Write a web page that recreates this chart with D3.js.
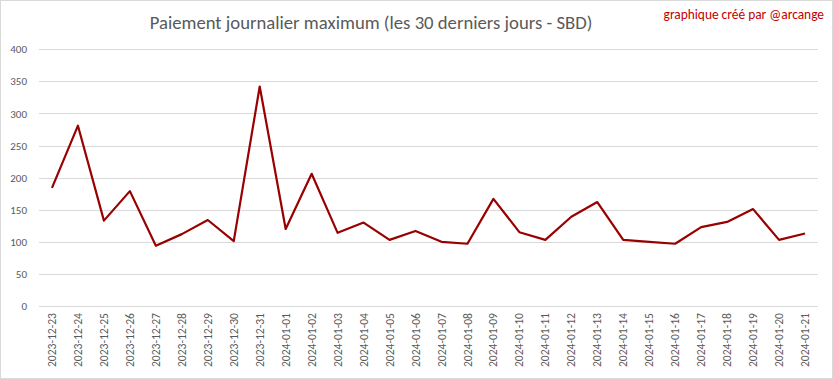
<!DOCTYPE html>
<html><head><meta charset="utf-8">
<script src="https://cdn.jsdelivr.net/npm/d3@7"></script>
<style>body{margin:0;background:#fff}svg{display:block}</style>
</head><body>
<svg id="c" width="833" height="379"></svg>
<script>
const categories = ["2023-12-23","2023-12-24","2023-12-25","2023-12-26","2023-12-27","2023-12-28","2023-12-29","2023-12-30","2023-12-31","2024-01-01","2024-01-02","2024-01-03","2024-01-04","2024-01-05","2024-01-06","2024-01-07","2024-01-08","2024-01-09","2024-01-10","2024-01-11","2024-01-12","2024-01-13","2024-01-14","2024-01-15","2024-01-16","2024-01-17","2024-01-18","2024-01-19","2024-01-20","2024-01-21"];
const values = [184,281,133,179,94,112,134,101,342,120,206,114,130,103,117,100,97,167,115,103,139,162,103,100,97,123,131,151,103,113];
const yTicks = [0,50,100,150,200,250,300,350,400];
const titleText = "Paiement journalier maximum (les 30 derniers jours - SBD)";
const creditText = "graphique créé par @arcange";

const svg = d3.select("#c");
const font = "Carlito, Calibri, 'Liberation Sans Narrow', 'Liberation Sans', sans-serif";
svg.append("rect").attr("x",0.5).attr("y",0.5).attr("width",832).attr("height",378)
  .attr("fill","#fff").attr("stroke","#d9d9d9");

const m = {l:39, r:818, t:49.3, b:306};
const x = d3.scaleBand().domain(categories).range([m.l, m.r]);
const y = d3.scaleLinear().domain([0,400]).range([m.b, m.t]);

const grid = svg.append("g");
grid.selectAll("line").data(yTicks).join("line")
  .attr("x1",m.l).attr("x2",m.r)
  .attr("y1",d=>Math.round(y(d))+0.5).attr("y2",d=>Math.round(y(d))+0.5)
  .attr("stroke","#d9d9d9").attr("stroke-width",1);

const yAxis = svg.append("g").attr("transform",`translate(${m.l},0)`)
  .call(d3.axisLeft(y).tickValues(yTicks).tickSize(0).tickPadding(12));
yAxis.select(".domain").remove();
yAxis.selectAll("text").attr("fill","#595959").style("font-family",font).style("font-size","11px");

const xAxis = svg.append("g").attr("transform",`translate(0,${m.b})`)
  .call(d3.axisBottom(x).tickSize(0));
xAxis.select(".domain").remove();
xAxis.selectAll("text")
  .attr("fill","#595959").style("font-family",font).style("font-size","11.6px")
  .attr("text-anchor","end").attr("transform","rotate(-90)")
  .attr("x",-7).attr("y",0).attr("dy","0.35em");

const line = d3.line().x(d=>x(d.c)+x.bandwidth()/2).y(d=>y(d.v));
svg.append("path").datum(categories.map((c,i)=>({c,v:values[i]})))
  .attr("d",line).attr("fill","none").attr("stroke","#990000")
  .attr("stroke-width",2.2).attr("stroke-linejoin","round");

svg.append("text").attr("x",371).attr("y",29).attr("text-anchor","middle")
  .attr("fill","#595959").style("font-family",font).style("font-size","18.7px").text(titleText);
svg.append("text").attr("x",824).attr("y",18.5).attr("text-anchor","end")
  .attr("fill","#c00000").style("font-family",font).style("font-size","13.4px").text(creditText);
</script>
</body></html>
